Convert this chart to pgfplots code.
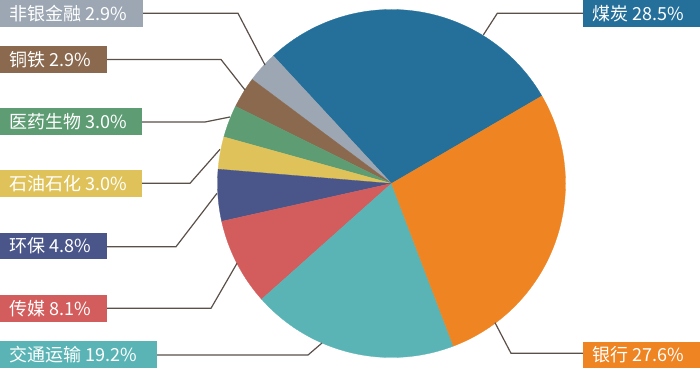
\documentclass[border=0pt]{standalone}
\usepackage{pgfplots}
\pgfplotsset{compat=1.18}
\usepackage{fontspec}
\newfontfamily\cjk{Noto Sans CJK SC}
\definecolor{cBlue}{HTML}{24709A}
\definecolor{cOrange}{HTML}{EE8422}
\definecolor{cTeal}{HTML}{5AB4B5}
\definecolor{cRed}{HTML}{D35D5C}
\definecolor{cNavy}{HTML}{4A5689}
\definecolor{cYellow}{HTML}{DFC35A}
\definecolor{cGreen}{HTML}{5E9D73}
\definecolor{cBrown}{HTML}{8A694F}
\definecolor{cGray}{HTML}{9CA7B3}
\definecolor{cLine}{HTML}{5B4F4A}
% pie geometry (pixel units, y downward)
\def\cx{391.5}
\def\cy{183.5}
\def\R{174}
\def\startang{30.2}
% #1 colour, #2 cumulative percent before slice, #3 percent of slice
\newcommand{\pieslice}[3]{%
  \pgfmathsetmacro{\aA}{\startang+3.6*#2}%
  \pgfmathsetmacro{\aB}{\startang+3.6*(#2+#3)}%
  \addplot[fill=#1, draw=#1, line width=0.3pt, domain=\aA:\aB, samples=80, smooth]
    ({\cx+\R*cos(x)}, {\cy-\R*sin(x)}) -- (axis cs:\cx,\cy) -- cycle;
}
% #1 colour, #2 x0, #3 x1, #4 y centre, #5 text, #6 text x
\newcommand{\plabel}[6]{%
  \fill[#1] (axis cs:#2,#4-13.3) rectangle (axis cs:#3,#4+13.3);
  \node[anchor=west, inner sep=0pt, text=white, font=\cjk\fontsize{18}{20}\selectfont] at (axis cs:#6,#4) {#5};
}
\begin{document}
\begin{tikzpicture}
\begin{axis}[x=1pt, y=1pt, xmin=0, xmax=700, ymin=0, ymax=368, y dir=reverse,
  hide axis, clip=false, scale only axis]
\path (axis cs:0,0) rectangle (axis cs:700,368);
% slices: values in percent, counter-clockwise from the 煤炭/银行 boundary
\pieslice{cBlue}{0}{28.5}
\pieslice{cGray}{28.5}{2.9}
\pieslice{cBrown}{31.4}{2.9}
\pieslice{cGreen}{34.3}{3.0}
\pieslice{cYellow}{37.3}{3.0}
\pieslice{cNavy}{40.3}{4.8}
\pieslice{cRed}{45.1}{8.1}
\pieslice{cTeal}{53.2}{19.2}
\pieslice{cOrange}{72.4}{27.6}
% leader lines
\draw[cLine, line width=1.2pt] (axis cs:143,13.3) -- (axis cs:238,13.3) -- (axis cs:265,65);
\draw[cLine, line width=1.2pt] (axis cs:107,59.5) -- (axis cs:221,59.5) -- (axis cs:245,90);
\draw[cLine, line width=1.2pt] (axis cs:142,122) -- (axis cs:205,122) -- (axis cs:230,117);
\draw[cLine, line width=1.2pt] (axis cs:142,183.3) -- (axis cs:190,183.3) -- (axis cs:220,149.3);
\draw[cLine, line width=1.2pt] (axis cs:107,246.7) -- (axis cs:176,246.7) -- (axis cs:217,193.3);
\draw[cLine, line width=1.2pt] (axis cs:107,308.3) -- (axis cs:211,308.3) -- (axis cs:237,263.3);
\draw[cLine, line width=1.2pt] (axis cs:157,355) -- (axis cs:308,355) -- (axis cs:322,343);
\draw[cLine, line width=1.2pt] (axis cs:583,13.3) -- (axis cs:497.3,13.3) -- (axis cs:483.3,35);
\draw[cLine, line width=1.2pt] (axis cs:583,353.3) -- (axis cs:511,353.3) -- (axis cs:495,322.7);
% labels
\plabel{cGray}{0}{143}{13.3}{非银金融 2.9\%}{9}
\plabel{cBrown}{0}{107}{59.4}{铜铁 2.9\%}{9}
\plabel{cGreen}{0}{142}{121.5}{医药生物 3.0\%}{9}
\plabel{cYellow}{0}{142}{183.7}{石油石化 3.0\%}{9}
\plabel{cNavy}{0}{107}{246}{环保 4.8\%}{9}
\plabel{cRed}{0}{107}{308.3}{传媒 8.1\%}{9}
\plabel{cTeal}{0}{157}{354.6}{交通运输 19.2\%}{9}
\plabel{cBlue}{583.3}{700}{13.3}{煤炭 28.5\%}{592.7}
\plabel{cOrange}{583.3}{700}{354.8}{银行 27.6\%}{592.7}
\end{axis}
\end{tikzpicture}
\end{document}
